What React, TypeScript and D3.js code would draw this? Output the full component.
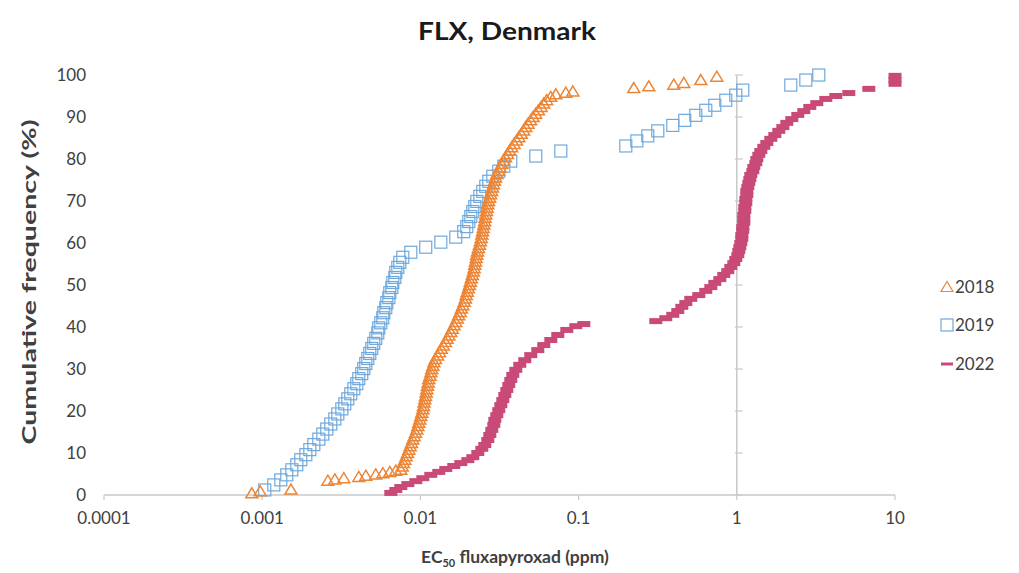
import React from "react";
import * as d3 from "d3";

const W = 1019;
const H = 573;

const title = "FLX, Denmark";
const xTitleMain = "EC";
const xTitleSub = "50";
const xTitleRest = " fluxapyroxad (ppm)";
const yTitle = "Cumulative frequency (%)";

const xTickValues = [0.0001, 0.001, 0.01, 0.1, 1, 10];
const xTickLabels = ["0.0001", "0.001", "0.01", "0.1", "1", "10"];
const yTickValues = [0, 10, 20, 30, 40, 50, 60, 70, 80, 90, 100];

const seriesNames = ["2018", "2019", "2022"];

// 2018 – EC50 (ppm) and cumulative frequency (%)
const x2018 = [
  0.00086, 0.00097, 0.00152, 0.0026, 0.00288, 0.00328, 0.00408, 0.00452, 0.00522, 0.00579, 0.00641, 0.00699,
  0.00752, 0.00767, 0.00782, 0.00797, 0.00813, 0.00829, 0.00845, 0.00862, 0.00878, 0.00895, 0.00913, 0.00931,
  0.00949, 0.00963, 0.00977, 0.00991, 0.01006, 0.0102, 0.01035, 0.01045, 0.01055, 0.01066, 0.01077, 0.01088,
  0.01098, 0.01109, 0.0112, 0.0113, 0.0115, 0.01165, 0.0118, 0.012, 0.01218, 0.01245, 0.01285, 0.0132,
  0.01355, 0.01395, 0.0144, 0.01475, 0.01512, 0.01555, 0.0159, 0.01632, 0.01672, 0.0171, 0.01745, 0.01785,
  0.01818, 0.01855, 0.01892, 0.01925, 0.0195, 0.0198, 0.0201, 0.0204, 0.02068, 0.02097, 0.02128, 0.0216,
  0.02186, 0.02207, 0.02229, 0.02251, 0.02273, 0.02297, 0.02328, 0.02362, 0.02396, 0.02424, 0.02448, 0.02472,
  0.02495, 0.0252, 0.02545, 0.02566, 0.02592, 0.02617, 0.02642, 0.02668, 0.027, 0.0274, 0.0278, 0.02818,
  0.02858, 0.029, 0.02942, 0.0299, 0.03045, 0.0312, 0.03185, 0.03265, 0.03345, 0.0345, 0.03555, 0.0366,
  0.0378, 0.0391, 0.0405, 0.0419, 0.0434, 0.0449, 0.0463, 0.0479, 0.0497, 0.0515, 0.0535, 0.0557,
  0.0579, 0.0602, 0.0628, 0.0666, 0.0718, 0.083, 0.0919, 0.2233, 0.2778, 0.3997, 0.4623, 0.5923, 0.7474,
];
const y2018 = [
  0.4, 0.9, 1.3, 3.4, 3.7, 4.0, 4.3, 4.6, 4.9, 5.2, 5.5, 5.8,
  6.0, 6.8, 7.6, 8.4, 9.2, 10.0, 10.8, 11.6, 12.4, 13.2, 14.0, 14.8,
  15.6, 16.4, 17.2, 18.0, 18.8, 19.6, 20.4, 21.2, 22.0, 22.8, 23.6, 24.4,
  25.2, 26.0, 26.8, 27.6, 28.4, 29.2, 30.0, 30.8, 31.6, 32.4, 33.2, 34.0,
  34.8, 35.6, 36.4, 37.2, 38.0, 38.8, 39.6, 40.4, 41.2, 42.0, 42.8, 43.6,
  44.4, 45.2, 46.0, 46.8, 47.6, 48.4, 49.2, 50.0, 50.8, 51.6, 52.4, 53.2,
  54.0, 54.8, 55.6, 56.4, 57.2, 58.0, 58.8, 59.6, 60.4, 61.2, 62.0, 62.8,
  63.6, 64.4, 65.2, 66.0, 66.8, 67.6, 68.4, 69.2, 70.0, 70.8, 71.6, 72.4,
  73.2, 74.0, 74.8, 75.6, 76.4, 77.2, 78.0, 78.8, 79.6, 80.4, 81.2, 82.0,
  82.8, 83.6, 84.4, 85.2, 86.0, 86.8, 87.6, 88.4, 89.2, 90.0, 90.8, 91.6,
  92.4, 93.2, 94.0, 94.8, 95.4, 95.8, 96.1, 96.9, 97.3, 97.7, 98.1, 98.8, 99.6,
];

// 2019
const x2019 = [
  0.001038, 0.001184, 0.001311, 0.00143, 0.001539, 0.001655, 0.001754, 0.001887, 0.002, 0.00212,
  0.00228, 0.002416, 0.00256, 0.002714, 0.002877, 0.003006, 0.003187, 0.003328, 0.003476, 0.003631,
  0.003794, 0.003963, 0.004079, 0.004262, 0.004387, 0.004517, 0.004649, 0.004787, 0.004928, 0.005073,
  0.005224, 0.005378, 0.005457, 0.005618, 0.005785, 0.00587, 0.006043, 0.006132, 0.006314, 0.006406,
  0.006596, 0.006692, 0.00689, 0.006991, 0.007197, 0.007412, 0.007741, 0.008696, 0.01081, 0.01346,
  0.01674, 0.0188, 0.01964, 0.02022, 0.02083, 0.02144, 0.02208, 0.02273, 0.02374, 0.0248,
  0.0259, 0.02706, 0.02868, 0.03129, 0.03367, 0.03727, 0.05363, 0.07718, 0.1988, 0.2333,
  0.2738, 0.3167, 0.3939, 0.469, 0.5505, 0.6368, 0.7261, 0.852, 0.9855, 1.091,
  2.194, 2.731, 3.298,
];
const y2019 = [
  1.2, 2.4, 3.6, 4.8, 6.0, 7.2, 8.4, 9.6, 10.8, 12.0,
  13.3, 14.5, 15.7, 16.9, 18.1, 19.3, 20.5, 21.7, 22.9, 24.1,
  25.3, 26.5, 27.7, 28.9, 30.1, 31.3, 32.5, 33.7, 34.9, 36.1,
  37.3, 38.6, 39.8, 41.0, 42.2, 43.4, 44.6, 45.8, 47.0, 48.2,
  49.4, 50.6, 51.8, 53.0, 54.2, 55.4, 56.6, 57.8, 59.0, 60.2,
  61.4, 62.7, 63.9, 65.1, 66.3, 67.5, 68.7, 69.9, 71.1, 72.3,
  73.5, 74.7, 75.9, 77.1, 78.3, 79.5, 80.7, 81.9, 83.1, 84.3,
  85.5, 86.7, 88.0, 89.2, 90.4, 91.6, 92.8, 94.0, 95.2, 96.4,
  97.6, 98.8, 100,
];

// 2022
const x2022 = [
  0.0065, 0.00699, 0.00752, 0.00833, 0.00935, 0.01036, 0.01163, 0.01307, 0.01447, 0.01625,
  0.018, 0.01994, 0.02144, 0.02306, 0.02444, 0.02552, 0.02667, 0.02746, 0.02827, 0.02911,
  0.02954, 0.0304, 0.03129, 0.03223, 0.03318, 0.03416, 0.03517, 0.03621, 0.03727, 0.03838,
  0.04009, 0.04249, 0.04569, 0.04985, 0.05522, 0.06026, 0.06673, 0.07388, 0.08421, 0.09601, 0.1079,
  0.3076, 0.3557, 0.3939, 0.4236, 0.4492, 0.4761, 0.5119, 0.5751, 0.6368, 0.6849,
  0.7261, 0.7808, 0.8275, 0.877, 0.9165, 0.9573, 0.9855, 1.0147, 1.0295,
  1.0447, 1.06, 1.0755, 1.0755, 1.0911, 1.0911, 1.107, 1.107, 1.107, 1.1235,
  1.1235, 1.14, 1.14, 1.1567, 1.1567, 1.1736, 1.191, 1.2085, 1.2262, 1.2624,
  1.2811, 1.3188, 1.3382, 1.3778, 1.4183, 1.4815, 1.5475, 1.6403, 1.7388, 1.8431,
  1.9537, 2.0709, 2.2265, 2.4298, 2.6515, 2.8935, 3.2033, 3.6525, 4.2245, 5.105,
  6.8308, 10, 10, 10,
];
const y2022 = [
  0.5, 1.2, 1.9, 2.6, 3.3, 4.0, 4.8, 5.5, 6.2, 6.9,
  7.6, 8.3, 9.0, 10.0, 11.0, 11.9, 13.1, 14.3, 15.5, 16.7,
  17.9, 19.0, 20.2, 21.4, 22.6, 23.8, 25.0, 26.2, 27.4, 28.6,
  29.8, 31.0, 32.1, 33.3, 34.5, 35.7, 36.9, 38.1, 39.3, 40.2, 40.7,
  41.4, 42.1, 42.9, 43.8, 44.8, 45.7, 46.7, 47.6, 48.6, 49.5,
  50.5, 51.4, 52.4, 53.3, 54.3, 55.2, 56.2, 57.1, 58.1,
  59.0, 60.0, 61.0, 61.9, 62.9, 63.8, 64.8, 65.7, 66.7, 67.6,
  68.6, 69.5, 70.5, 71.4, 72.4, 73.3, 74.3, 75.2, 76.2, 77.1,
  78.1, 79.0, 80.0, 81.0, 81.9, 82.9, 83.8, 84.8, 85.7, 86.7,
  87.6, 88.6, 89.5, 90.5, 91.4, 92.4, 93.3, 94.3, 95.0, 95.7,
  96.7, 97.9, 98.8, 99.8,
];

const COL_2018 = "#ED8535";
const COL_2019 = "#6FA8DC";
const COL_2022 = "#C94A78";
const TEXT = "#404040";
const AXIS = "#C8C8C8";
const FONT = "Lato, 'Open Sans', 'DejaVu Sans', sans-serif";

const triPath = "M0,-5.5L6,4.5L-6,4.5Z";

function Triangle({ cx, cy, w = 1.5 }: { cx: number; cy: number; w?: number }) {
  return (
    <path
      d={triPath}
      transform={`translate(${cx},${cy})`}
      fill="none"
      stroke={COL_2018}
      strokeWidth={w}
    />
  );
}
function Square({ cx, cy }: { cx: number; cy: number }) {
  return (
    <rect
      x={cx - 6}
      y={cy - 6}
      width={12}
      height={12}
      fill="none"
      stroke={COL_2019}
      strokeWidth={1.2}
    />
  );
}
function Dash({ cx, cy }: { cx: number; cy: number }) {
  return <rect x={cx - 6.5} y={cy - 3} width={13} height={6} fill={COL_2022} />;
}

export default function App() {
  const x = d3.scaleLog().domain([1e-4, 10]).range([104, 895]);
  const y = d3.scaleLinear().domain([0, 100]).range([495, 75]);
  const axisX = x(1);

  const pts2018 = x2018.map((v, i) => [x(v), y(y2018[i])]);
  const pts2019 = x2019.map((v, i) => [x(v), y(y2019[i])]);
  const pts2022 = x2022.map((v, i) => [x(v), y(y2022[i])]);

  const legendY = [287, 325, 364];

  return (
    <svg
      width={W}
      height={H}
      viewBox={`0 0 ${W} ${H}`}
      style={{ position: "absolute", left: 0, top: 0, background: "#fff" }}
      fontFamily={FONT}
    >
      <rect x={0} y={0} width={W} height={H} fill="#fff" />
      {/* title */}
      <text
        x={507}
        y={40}
        textAnchor="middle"
        fontSize={24}
        fontWeight={700}
        fill="#1a1a1a"
        textLength={178}
        lengthAdjust="spacingAndGlyphs"
      >
        {title}
      </text>

      {/* x axis */}
      <line x1={x(1e-4)} x2={x(10)} y1={y(0)} y2={y(0)} stroke={AXIS} strokeWidth={1.5} />
      {xTickValues.map((t) => (
        <line key={"xt" + t} x1={x(t)} x2={x(t)} y1={y(0)} y2={y(0) + 5} stroke={AXIS} strokeWidth={1.2} />
      ))}
      {xTickValues.map((t, i) => (
        <text key={"xl" + t} x={x(t)} y={524} textAnchor="middle" fontSize={17} fill={TEXT}>
          {xTickLabels[i]}
        </text>
      ))}

      {/* y axis at x = 1 */}
      <line x1={axisX} x2={axisX} y1={y(0)} y2={y(100)} stroke={AXIS} strokeWidth={1.5} />
      {yTickValues.map((t) => (
        <line key={"yt" + t} x1={axisX - 2} x2={axisX + 6} y1={y(t)} y2={y(t)} stroke={AXIS} strokeWidth={1.2} />
      ))}
      {yTickValues.map((t) => (
        <text key={"yl" + t} x={86} y={y(t) + 6} textAnchor="end" fontSize={17} fill={TEXT}>
          {t}
        </text>
      ))}

      {/* axis titles */}
      <text x={515} y={563} textAnchor="middle" fontSize={17.5} fontWeight={700} fill={TEXT}>
        <tspan>{xTitleMain}</tspan>
        <tspan fontSize={11} dy={4}>
          {xTitleSub}
        </tspan>
        <tspan dy={-4}>{xTitleRest}</tspan>
      </text>
      <text
        transform={`translate(36,${282}) rotate(-90)`}
        textAnchor="middle"
        fontSize={18}
        fontWeight={700}
        fill={TEXT}
        textLength={325}
        lengthAdjust="spacingAndGlyphs"
      >
        {yTitle}
      </text>

      {/* series */}
      <g>
        {pts2019.map(([cx, cy], i) => (
          <Square key={"s" + i} cx={cx} cy={cy} />
        ))}
      </g>
      <g>
        {pts2018.map(([cx, cy], i) => (
          <Triangle key={"t" + i} cx={cx} cy={cy} />
        ))}
      </g>
      <g>
        {pts2022.map(([cx, cy], i) => (
          <Dash key={"d" + i} cx={cx} cy={cy} />
        ))}
      </g>

      {/* legend */}
      <g>
        <Triangle cx={947} cy={legendY[0]} w={1.2} />
        <text x={955} y={legendY[0] + 6} fontSize={17} fill={TEXT}>
          {seriesNames[0]}
        </text>
        <Square cx={947} cy={legendY[1]} />
        <text x={955} y={legendY[1] + 6} fontSize={17} fill={TEXT}>
          {seriesNames[1]}
        </text>
        <rect x={941} y={legendY[2] - 1.5} width={12} height={3} fill={COL_2022} />
        <text x={955} y={legendY[2] + 6} fontSize={17} fill={TEXT}>
          {seriesNames[2]}
        </text>
      </g>
    </svg>
  );
}
